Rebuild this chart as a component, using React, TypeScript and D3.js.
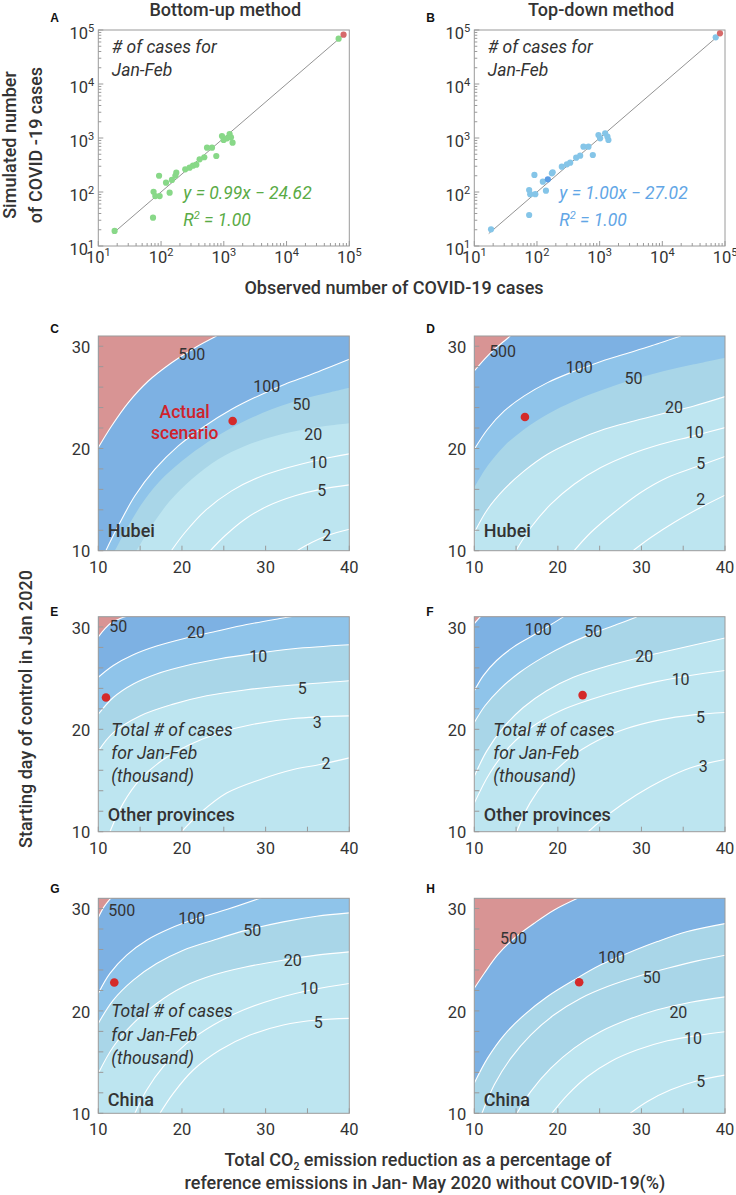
import React from 'react';
import * as d3 from 'd3';

type Pt = [number, number];

// ---------------- Scatter data (observed, simulated) ----------------
const A_OBSERVED = [18.2, 74.5, 76, 81, 95, 93, 120, 137, 149, 169, 175, 243, 285, 323, 365, 412, 489, 540, 648, 759, 935, 993, 1237, 1301, 1380, 1125, 67600];
const A_SIMULATED = [19.0, 33.4, 101, 84, 84, 200, 149, 97, 167, 200, 228, 263, 282, 307, 320, 403, 440, 661, 661, 464, 1089, 918, 1186, 1030, 819, 986, 69000];
const A_TOTAL: Pt = [81000, 81800];
const B_OBSERVED = [18.5, 75, 75, 78, 94, 91, 124, 139, 173, 178, 249, 300, 339, 422, 489, 552, 663, 778, 957, 1018, 1224, 1331, 1381, 71100];
const B_SIMULATED = [20.4, 37.5, 109, 91, 91, 207, 155, 106, 222, 232, 294, 325, 349, 432, 471, 692, 692, 484, 1137, 986, 1222, 1059, 918, 73300];
const B_TOTAL: Pt = [83200, 86900];
const B_HIGHLIGHT: Pt = [149, 172];
const FIT_EXTENT = [17, 85000];
const LOG_TICKS = [10, 100, 1000, 10000, 100000];
const LOG_EXPONENTS = ['1', '2', '3', '4', '5'];
const A_EQUATION = 'y = 0.99x \u2212 24.62';
const B_EQUATION = 'y = 1.00x \u2212 27.02';
const R2_VALUE = '1.00';

// ---------------- Contour axes ----------------
const X_TICK_LABELS = [10, 20, 30, 40];
const X_TICKS = [10, 15, 20, 25, 30, 35, 40];
const Y_TICK_LABELS = [10, 20, 30];
const Y_TICKS = [10, 12, 14, 16, 18, 20, 22, 24, 26, 28, 30];

// ---------------- Contour lines (reduction %, start day) ----------------
// C: Hubei, bottom-up
const C_500: Pt[] = [[10, 20.09], [11.59, 22.2], [13.59, 24.49], [15.98, 26.6], [18.76, 28.39], [21.55, 29.86], [24.14, 31.0]];
const C_100: Pt[] = [[10.9, 10], [12.39, 12.43], [14.38, 15.37], [16.77, 17.97], [19.56, 20.25], [22.75, 22.2], [25.94, 23.83], [29.12, 25.14], [32.31, 26.28], [35.5, 27.25], [40, 28.72]];
const C_50: Pt[] = [[12.0, 10], [13.59, 12.43], [15.58, 15.04], [17.97, 17.32], [20.76, 19.27], [23.94, 21.07], [27.13, 22.53], [30.72, 23.83], [34.3, 24.81], [37.49, 25.46], [40, 25.95]];
const C_20: Pt[] = [[14.58, 10], [16.37, 12.43], [18.57, 14.88], [21.16, 16.99], [24.34, 18.95], [27.53, 20.25], [31.12, 21.23], [34.7, 21.88], [37.89, 22.27], [40, 22.47]];
const C_10: Pt[] = [[18.73, 10], [20.36, 11.78], [22.75, 13.9], [25.94, 15.85], [29.12, 17.16], [32.71, 18.13], [36.29, 18.88], [40, 19.47]];
const C_5: Pt[] = [[23.39, 10], [25.14, 11.46], [27.53, 13.08], [30.32, 14.39], [33.51, 15.37], [36.69, 16.02], [40, 16.44]];
const C_2: Pt[] = [[33.75, 10], [35.5, 10.8], [37.49, 11.52], [40, 12.1]];
const C_LABELS: [string, number, number][] = [['500', 21.16, 29.2], ['100', 30.12, 26.11], ['50', 34.3, 24.32], ['20', 35.7, 21.39], ['10', 36.3, 18.62], ['5', 36.7, 15.85], ['2', 37.3, 11.46]];
const C_ACTUAL: Pt = [26.06, 22.69];

// D: Hubei, top-down
const D_500: Pt[] = [[10, 27.58], [11.2, 28.72], [12.39, 29.7], [13.59, 30.51], [14.3, 31]];
const D_100: Pt[] = [[10, 19.92], [11.59, 21.88], [13.59, 23.67], [15.98, 25.14], [18.76, 26.44], [21.55, 27.42], [24.74, 28.39], [27.93, 29.21], [31.12, 30.02], [34.7, 31]];
const D_50: Pt[] = [[10, 16.18], [11.59, 18.3], [13.59, 20.25], [15.98, 21.88], [18.76, 23.35], [21.95, 24.65], [25.54, 25.79], [29.12, 26.77], [32.71, 27.58], [36.29, 28.23], [40, 28.88]];
const D_20: Pt[] = [[10, 11.78], [11.59, 14.06], [13.59, 16.02], [15.98, 17.81], [18.76, 19.44], [21.95, 20.74], [25.54, 21.88], [29.12, 22.69], [32.71, 23.44], [36.29, 24.16], [40, 25.07]];
const D_10: Pt[] = [[14.98, 10], [16.77, 12.27], [19.16, 14.55], [21.95, 16.5], [25.14, 18.13], [28.73, 19.44], [32.31, 20.41], [36.29, 21.23], [40, 22.04]];
const D_5: Pt[] = [[21.95, 10], [23.94, 11.78], [26.73, 13.74], [29.92, 15.69], [33.11, 17.16], [36.29, 18.13], [40, 19.21]];
const D_2: Pt[] = [[29.0, 10], [31.12, 11.29], [33.9, 12.76], [37.09, 14.23], [40, 15.43]];
const D_LABELS: [string, number, number][] = [['500', 13.39, 29.53], ['100', 22.55, 27.91], ['50', 29.04, 26.83], ['20', 33.9, 24.0], ['10', 36.37, 21.55], ['5', 37.1, 18.56], ['2', 37.1, 15.04]];
const D_ACTUAL: Pt = [16.06, 23.08];

// E: Other provinces, bottom-up
const E_50: Pt[] = [[10, 29.02], [10.8, 29.84], [11.59, 30.43], [12.59, 30.82], [13.59, 31.1]];
const E_20: Pt[] = [[10, 25.08], [11.79, 26.23], [14.18, 27.28], [16.97, 28.13], [20.16, 28.85], [23.75, 29.51], [27.73, 30.23], [31.71, 30.82], [34.1, 31.15]];
const E_10: Pt[] = [[10, 21.48], [11.79, 23.11], [14.18, 24.43], [16.97, 25.41], [20.56, 26.23], [24.54, 26.89], [28.53, 27.38], [33.31, 27.87], [40, 28.26]];
const E_5: Pt[] = [[10, 17.87], [11.79, 19.67], [14.98, 21.31], [18.96, 22.46], [22.95, 23.28], [27.73, 23.87], [33.31, 24.33], [40, 24.75]];
const E_3: Pt[] = [[11.39, 10], [12.99, 12.79], [14.98, 15.08], [17.77, 17.05], [20.96, 18.52], [24.54, 19.67], [28.53, 20.49], [33.31, 21.05], [40, 21.31]];
const E_2: Pt[] = [[19.96, 10], [22.15, 11.8], [25.34, 13.77], [29.32, 15.08], [33.31, 16.07], [36.49, 16.56], [40, 17.21]];
const E_LABELS: [string, number, number][] = [['50', 12.39, 30.1], ['20', 21.67, 29.44], ['10', 29.12, 27.15], ['5', 34.38, 23.95], ['3', 36.18, 20.66], ['2', 37.21, 16.66]];
const E_ACTUAL: Pt = [10.92, 23.11];

// F: Other provinces, top-down
const F_500: Pt[] = [[10, 30.33], [10.88, 31.15]];
const F_100: Pt[] = [[10, 23.77], [11.08, 25.25], [12.67, 26.72], [14.67, 28.03], [17.06, 29.18], [19.05, 30.16], [20.65, 30.98]];
const F_50: Pt[] = [[10, 20.66], [11.28, 22.3], [13.07, 23.93], [15.46, 25.57], [18.26, 27.05], [21.05, 28.26], [23.84, 29.25], [27.03, 30.23], [29.43, 30.98]];
const F_20: Pt[] = [[10, 15.41], [11.48, 17.87], [13.47, 20.16], [15.86, 22.13], [18.66, 23.77], [21.85, 25.08], [25.44, 26.07], [29.43, 26.95], [33.41, 27.7], [40, 28.92]];
const F_10: Pt[] = [[10, 12.79], [11.87, 15.74], [14.27, 18.36], [17.06, 20.33], [20.25, 21.8], [23.84, 22.89], [27.83, 23.87], [31.82, 24.66], [35.81, 25.25], [40, 25.74]];
const F_5: Pt[] = [[15.07, 10], [16.66, 12.79], [18.66, 15.08], [21.45, 17.21], [24.64, 18.85], [28.23, 20.07], [32.22, 20.92], [36.21, 21.41], [40, 21.64]];
const F_3: Pt[] = [[23.64, 10], [26.23, 11.8], [29.43, 13.61], [32.62, 15.08], [35.81, 16.23], [40, 17.05]];
const F_LABELS: [string, number, number][] = [['100', 17.66, 29.77], ['50', 24.24, 29.57], ['20', 30.34, 27.15], ['10', 34.69, 24.92], ['5', 37.08, 21.15], ['3', 37.4, 16.39]];
const F_ACTUAL: Pt = [22.96, 23.34];

// G: China, bottom-up
const G_500: Pt[] = [[10, 29.12], [10.68, 30.16], [11.39, 30.91], [11.6, 31.1]];
const G_100: Pt[] = [[10, 21.71], [11.39, 23.66], [13.39, 25.45], [15.78, 26.91], [18.57, 28.05], [21.75, 29.02], [25.34, 29.9], [29.5, 31.05]];
const G_50: Pt[] = [[10, 18.78], [11.79, 21.06], [14.18, 23.01], [16.97, 24.63], [20.16, 25.93], [23.75, 26.91], [27.73, 27.89], [32.11, 28.7], [36.1, 29.25], [40, 29.58]];
const G_20: Pt[] = [[10, 13.9], [11.79, 16.5], [14.18, 18.78], [16.97, 20.73], [20.16, 22.36], [23.75, 23.5], [27.73, 24.31], [32.11, 24.96], [36.1, 25.45], [40, 25.77]];
const G_10: Pt[] = [[14.38, 10], [15.78, 12.28], [17.77, 14.55], [20.56, 16.83], [23.75, 18.62], [27.33, 20.08], [31.31, 21.22], [35.7, 22.1], [40, 22.68]];
const G_5: Pt[] = [[17.37, 10], [18.96, 11.95], [21.35, 14.23], [24.54, 16.18], [28.13, 17.64], [32.11, 18.62], [36.1, 19.11], [40, 19.27]];
const G_LABELS: [string, number, number][] = [['500', 12.79, 29.84], ['100', 21.16, 29.02], ['50', 28.41, 27.89], ['20', 33.23, 24.96], ['10', 35.22, 22.2], ['5', 36.29, 18.91]];
const G_ACTUAL: Pt = [11.91, 22.78];

// H: China, top-down
const H_500: Pt[] = [[10, 22.22], [11.2, 23.68], [12.79, 25.47], [14.78, 27.1], [17.17, 28.56], [19.56, 29.86], [22.35, 31]];
const H_100: Pt[] = [[10, 12.95], [11.59, 15.39], [13.59, 17.67], [15.98, 19.62], [18.76, 21.41], [21.95, 23.03], [25.14, 24.5], [28.33, 25.63], [31.91, 26.77], [35.5, 27.75], [40, 28.53]];
const H_50: Pt[] = [[10.92, 10], [12.39, 12.79], [14.38, 15.39], [16.77, 17.67], [19.56, 19.62], [22.75, 21.24], [25.94, 22.38], [29.52, 23.36], [33.11, 24.17], [36.69, 24.89], [40, 25.44]];
const H_20: Pt[] = [[15.1, 10], [16.77, 12.14], [19.16, 14.41], [21.95, 16.37], [25.14, 17.99], [28.33, 19.13], [31.91, 20.11], [35.9, 20.85], [40, 21.37]];
const H_10: Pt[] = [[19.28, 10], [21.16, 11.81], [23.55, 13.6], [26.33, 15.07], [29.52, 16.2], [33.11, 17.08], [36.69, 17.6], [40, 17.96]];
const H_5: Pt[] = [[28.65, 10], [30.72, 11.16], [33.51, 12.3], [36.69, 13.18], [40, 13.73]];
const H_LABELS: [string, number, number][] = [['500', 14.7, 27.1], ['100', 26.41, 25.21], ['50', 31.24, 23.29], ['20', 34.42, 19.88], ['10', 36.18, 17.28], ['5', 37.1, 13.11]];
const H_ACTUAL: Pt = [22.55, 22.8];

// ---------------- Styles ----------------
const COL = {
  red: '#d89494',
  dark: '#7db1e3',
  mid: '#8fc4ea',
  light: '#a9d6e8',
  pale: '#bde5f0',
  dot: '#d42a2a',
  text: '#333333',
  frame: '#9a9a9a',
  green: '#88d888',
  greenText: '#5aab46',
  blue: '#85c5e8',
  blueDark: '#5b9de4',
  blueText: '#62a6e6',
  totalRed: '#d66a6a',
};
const FONT = "Roboto, 'Noto Sans', 'DejaVu Sans', sans-serif";
const LETTER_FONT = "'Liberation Sans', Arial, sans-serif";

const LEFT = { x0: 98.3, x1: 349.3 };
const RIGHT = { x0: 474.3, x1: 725 };
const ROWS = [
  { y0: 336, y1: 550.7, letterY: 333, regionDy: 14 },
  { y0: 616.7, y1: 831.7, letterY: 616, regionDy: 10.5 },
  { y0: 898.3, y1: 1113.3, letterY: 893, regionDy: 7.6 },
];

const CONTOUR_PANELS = [
  { letter: 'C', col: LEFT, row: ROWS[0], fills: [[C_20, COL.light], [C_50, COL.mid], [C_100, COL.dark], [C_500, COL.red]], lines: [C_500, C_100, C_10, C_5, C_2], labels: C_LABELS, dot: C_ACTUAL, region: 'Hubei', note: 'actual' },
  { letter: 'D', col: RIGHT, row: ROWS[0], fills: [[D_20, COL.light], [D_50, COL.mid], [D_100, COL.dark], [D_500, COL.red]], lines: [D_500, D_100, D_20, D_10, D_5, D_2], labels: D_LABELS, dot: D_ACTUAL, region: 'Hubei', note: '' },
  { letter: 'E', col: LEFT, row: ROWS[1], fills: [[E_5, COL.light], [E_10, COL.mid], [E_20, COL.dark], [E_50, COL.red]], lines: [E_50, E_20, E_10, E_5, E_3, E_2], labels: E_LABELS, dot: E_ACTUAL, region: 'Other provinces', note: 'total' },
  { letter: 'F', col: RIGHT, row: ROWS[1], fills: [[F_20, COL.light], [F_50, COL.mid], [F_100, COL.dark], [F_500, COL.red]], lines: [F_500, F_100, F_50, F_20, F_10, F_5, F_3], labels: F_LABELS, dot: F_ACTUAL, region: 'Other provinces', note: 'total' },
  { letter: 'G', col: LEFT, row: ROWS[2], fills: [[G_20, COL.light], [G_50, COL.mid], [G_100, COL.dark], [G_500, COL.red]], lines: [G_500, G_100, G_50, G_20, G_10, G_5], labels: G_LABELS, dot: G_ACTUAL, region: 'China', note: 'total' },
  { letter: 'H', col: RIGHT, row: ROWS[2], fills: [[H_20, COL.light], [H_100, COL.dark], [H_500, COL.red]], lines: [H_500, H_100, H_50, H_20, H_10, H_5], labels: H_LABELS, dot: H_ACTUAL, region: 'China', note: '' },
];

function ContourPanel({ p }: { p: any }) {
  const { x0, x1 } = p.col;
  const { y0, y1 } = p.row;
  const xs = d3.scaleLinear().domain([10, 40]).range([x0, x1]);
  const ys = d3.scaleLinear().domain([10, 31]).range([y1, y0]);
  const line = d3.line<Pt>().x((d) => xs(d[0])).y((d) => ys(d[1])).curve(d3.curveCatmullRom.alpha(0.5));
  const tail = `L${xs(40)},${ys(31)}L${xs(10)},${ys(31)}L${xs(10)},${ys(10)}Z`;
  const clipId = `clip-${p.letter}`;
  const noteX = x0 + (p.col === LEFT ? 13 : 19);
  return (
    <g>
      <defs>
        <clipPath id={clipId}>
          <rect x={x0} y={y0} width={x1 - x0} height={y1 - y0} />
        </clipPath>
      </defs>
      <g clipPath={`url(#${clipId})`}>
        <rect x={x0} y={y0} width={x1 - x0} height={y1 - y0} fill={COL.pale} />
        {p.fills.map(([pts, c]: [Pt[], string], i: number) => (
          <path key={i} d={(line(pts) || '') + tail} fill={c} />
        ))}
        {p.lines.map((pts: Pt[], i: number) => (
          <path key={i} d={line(pts) || ''} fill="none" stroke="#ffffff" strokeWidth={1.1} />
        ))}
      </g>
      {p.labels.map(([t, lx, ly]: [string, number, number], i: number) => (
        <text key={i} x={xs(lx)} y={ys(ly)} dy="0.35em" textAnchor="middle" fontSize={16} fill={COL.text} fontFamily={FONT}>
          {t}
        </text>
      ))}
      {p.note === 'actual' && (
        <g fontFamily={FONT} fontSize={17.5} fontWeight={500} fill="#d0232b" textAnchor="middle">
          <text x={184.7} y={417.5}>Actual</text>
          <text x={184.7} y={439}>scenario</text>
        </g>
      )}
      {p.note === 'total' && (
        <g fontFamily={FONT} fontSize={17.5} fontStyle="italic" fill={COL.text}>
          <text x={noteX} y={y0 + 119}>Total # of cases</text>
          <text x={noteX} y={y0 + 142.3}>for Jan-Feb</text>
          <text x={noteX} y={y0 + 165.6}>(thousand)</text>
        </g>
      )}
      <text x={x0 + 9.5} y={y1 - p.row.regionDy} fontFamily={FONT} fontSize={18} fontWeight={500} fill={COL.text}>
        {p.region}
      </text>
      <circle cx={xs(p.dot[0])} cy={ys(p.dot[1])} r={4.3} fill={COL.dot} />
      <rect x={x0} y={y0} width={x1 - x0} height={y1 - y0} fill="none" stroke={COL.frame} strokeWidth={1} />
      {X_TICKS.map((t) => (
        <line key={'xt' + t} x1={xs(t)} x2={xs(t)} y1={y1} y2={y1 - 5} stroke={COL.frame} strokeWidth={1} />
      ))}
      {Y_TICKS.map((t) => (
        <line key={'yt' + t} x1={x0} x2={x0 + 5} y1={ys(t)} y2={ys(t)} stroke={COL.frame} strokeWidth={1} />
      ))}
      {X_TICK_LABELS.map((t) => (
        <text key={'xl' + t} x={xs(t)} y={y1 + 22} textAnchor="middle" fontSize={16.5} fill={COL.text} fontFamily={FONT}>
          {t}
        </text>
      ))}
      {Y_TICK_LABELS.map((t) => (
        <text key={'yl' + t} x={x0 - 8} y={ys(t)} dy="0.4em" textAnchor="end" fontSize={16.5} fill={COL.text} fontFamily={FONT}>
          {t}
        </text>
      ))}
      <text x={x0 - 48} y={p.row.letterY} fontFamily={LETTER_FONT} fontWeight="bold" fontSize={12} fill="#111">
        {p.letter}
      </text>
    </g>
  );
}

function ScatterPanel({ letter, col, title, observed, simulated, total, highlight, color, textColor, equation }: any) {
  const { x0, x1 } = col;
  const y0 = 30, y1 = 246;
  const xs = d3.scaleLog().domain([10, 100000]).range([x0, x1]);
  const ys = d3.scaleLog().domain([10, 100000]).range([y1, y0]);
  const minor: number[] = [];
  LOG_TICKS.slice(0, -1).forEach((d) => {
    for (let k = 2; k <= 9; k++) minor.push(d * k);
  });
  const pts: Pt[] = observed.map((o: number, i: number) => [o, simulated[i]]);
  return (
    <g fontFamily={FONT}>
      <text x={(x0 + x1) / 2 + 1.5} y={15.5} textAnchor="middle" fontSize={18} fontWeight={500} fill={COL.text}>
        {title}
      </text>
      <text x={x0 - 48} y={22} fontFamily={LETTER_FONT} fontWeight="bold" fontSize={12} fill="#111">
        {letter}
      </text>
      <rect x={x0} y={y0} width={x1 - x0} height={y1 - y0} fill="#fff" stroke={COL.frame} strokeWidth={1} />
      {minor.map((t) => (
        <g key={'m' + t}>
          <line x1={xs(t)} x2={xs(t)} y1={y1} y2={y1 - 3} stroke={COL.frame} />
          <line x1={x0} x2={x0 + 3} y1={ys(t)} y2={ys(t)} stroke={COL.frame} />
        </g>
      ))}
      {LOG_TICKS.map((t) => (
        <g key={'M' + t}>
          <line x1={xs(t)} x2={xs(t)} y1={y1} y2={y1 - 5} stroke={COL.frame} />
          <line x1={x0} x2={x0 + 5} y1={ys(t)} y2={ys(t)} stroke={COL.frame} />
        </g>
      ))}
      {LOG_TICKS.map((t, i) => (
        <text key={'xl' + t} x={xs(t)} y={y1 + 17} textAnchor="middle" fontSize={16.5} fill={COL.text}>
          10<tspan fontSize={11} dy={-7}>{LOG_EXPONENTS[i]}</tspan>
        </text>
      ))}
      {LOG_TICKS.map((t, i) => (
        <text key={'yl' + t} x={x0 - 4} y={ys(t) + 9} textAnchor="end" fontSize={16.5} fill={COL.text}>
          10<tspan fontSize={11} dy={-7}>{LOG_EXPONENTS[i]}</tspan>
        </text>
      ))}
      <line x1={xs(FIT_EXTENT[0])} y1={ys(FIT_EXTENT[0])} x2={xs(FIT_EXTENT[1])} y2={ys(FIT_EXTENT[1])} stroke="#777" strokeWidth={0.8} />
      {pts.map((d, i) => (
        <circle key={i} cx={xs(d[0])} cy={ys(d[1])} r={3.1} fill={color} />
      ))}
      {highlight && <circle cx={xs(highlight[0])} cy={ys(highlight[1])} r={3.1} fill={COL.blueDark} />}
      <circle cx={xs(total[0])} cy={ys(total[1])} r={3.1} fill={COL.totalRed} />
      <g fontSize={17.5} fontStyle="italic" fill={COL.text}>
        <text x={x0 + 13.5} y={53}>
          # of cases for
        </text>
        <text x={x0 + 13.5} y={76}>
          Jan-Feb
        </text>
      </g>
      <g fontSize={17.5} fontStyle="italic" fill={textColor}>
        <text x={x0 + 85} y={199}>
          {equation}
        </text>
        <text x={x0 + 85} y={226}>
          R<tspan fontSize={11} dy={-7}>2</tspan>
          <tspan dy={7}> = {R2_VALUE}</tspan>
        </text>
      </g>
    </g>
  );
}

export default function App() {
  return (
    <svg
      width={736}
      height={1195}
      viewBox="0 0 736 1195"
      style={{ position: 'absolute', left: 0, top: 0, display: 'block', background: '#fff' }}
    >
      <rect x={0} y={0} width={736} height={1195} fill="#fff" />
      <ScatterPanel
        letter="A"
        col={LEFT}
        title="Bottom-up method"
        observed={A_OBSERVED}
        simulated={A_SIMULATED}
        total={A_TOTAL}
        color={COL.green}
        textColor={COL.greenText}
        equation={A_EQUATION}
      />
      <ScatterPanel
        letter="B"
        col={RIGHT}
        title="Top-down method"
        observed={B_OBSERVED}
        simulated={B_SIMULATED}
        total={B_TOTAL}
        highlight={B_HIGHLIGHT}
        color={COL.blue}
        textColor={COL.blueText}
        equation={B_EQUATION}
      />
      <g fontFamily={FONT} fontSize={18} fontWeight={500} fill={COL.text}>
        <text transform="translate(15.5,145) rotate(-90)" textAnchor="middle">Simulated number</text>
        <text transform="translate(41.5,145) rotate(-90)" textAnchor="middle">of COVID -19 cases</text>
        <text x={394} y={294} textAnchor="middle">Observed number of COVID-19 cases</text>
        <text transform="translate(32,709) rotate(-90)" textAnchor="middle">Starting day of control in Jan 2020</text>
        <text x={418} y={1166} textAnchor="middle">
          Total CO<tspan fontSize={10.5} dy={4}>2</tspan>
          <tspan dy={-4}> emission reduction as a percentage of</tspan>
        </text>
        <text x={425} y={1189} textAnchor="middle">reference emissions in Jan- May 2020 without COVID-19(%)</text>
      </g>
      {CONTOUR_PANELS.map((p) => (
        <ContourPanel key={p.letter} p={p} />
      ))}
    </svg>
  );
}
